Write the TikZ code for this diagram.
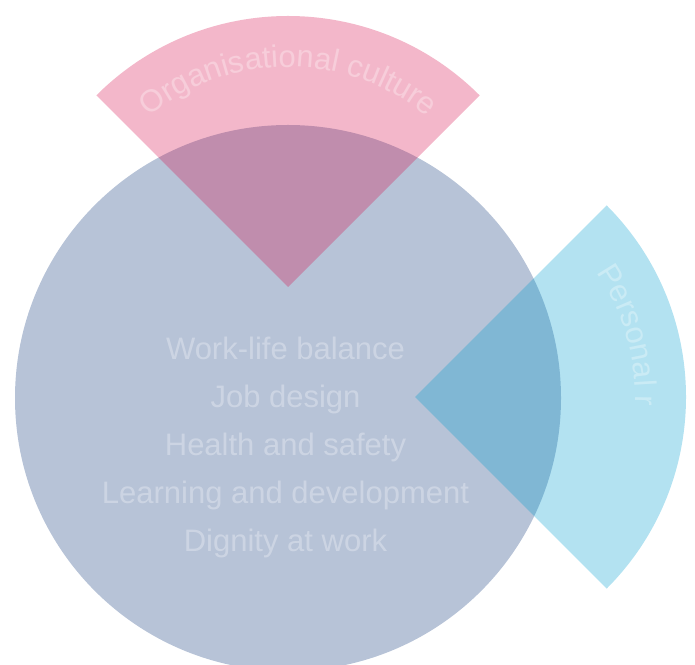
\documentclass[tikz,border=0pt]{standalone}
\usepackage{fontspec}
\setmainfont{Liberation Sans}
\usetikzlibrary{decorations.text}
\begin{document}
\begin{tikzpicture}[x=1pt, y=1pt,
  topic/.style = {anchor = base, text = white, text opacity = 0.3, font = \fontsize{31}{36}\selectfont},
  fantext/.style = {decorate, decoration = {text along path, #1}}]
\pgfmathsetmacro\rbig{273};
\pgfmathsetmacro\rfan{271};
\pgfmathsetmacro\rtext{220};
\definecolor{circcolor}{RGB}{15,55,122}
\definecolor{culturecolor}{RGB}{215,18,78}
\definecolor{personcolor}{RGB}{2,158,208}
\definecolor{culturetint}{RGB}{243,184,202}
\definecolor{persontint}{RGB}{179,226,241}
\useasboundingbox (0,0) rectangle (695,664);
\clip (0,0) rectangle (695,664);
\coordinate (centre) at (288,266);
\coordinate (culture) at (288,377);
\coordinate (personal) at (415,267);
\fill [circcolor, fill opacity = 0.3] (centre) circle (\rbig);
\fill [culturecolor, fill opacity = 0.3] (culture) -- ++(45:\rfan) arc [start angle = 45, end angle = 135, radius = \rfan] -- cycle;
\fill [personcolor, fill opacity = 0.3] (personal) -- ++(-45:\rfan) arc [start angle = -45, end angle = 45, radius = \rfan] -- cycle;
\path [fantext = {text align = center, text color = white!30!culturetint, text = {|\fontsize{31}{36}\selectfont|Organisational culture}}] ([shift = {(135:\rtext)}]culture) arc [start angle = 135, end angle = 45, radius = \rtext];
\path [fantext = {text color = white!30!persontint, text = {|\fontsize{31}{36}\selectfont|Personal r}}] ([shift = {(34.5:\rtext)}]personal) arc [start angle = 34.5, end angle = -45, radius = \rtext];
\foreach \topic [count = \i from 0] in {Work-life balance, Job design, Health and safety, Learning and development, Dignity at work}
  \node [topic] (topic\i) at (285.5, 304 - 47.75*\i) {\topic};
\end{tikzpicture}
\end{document}
